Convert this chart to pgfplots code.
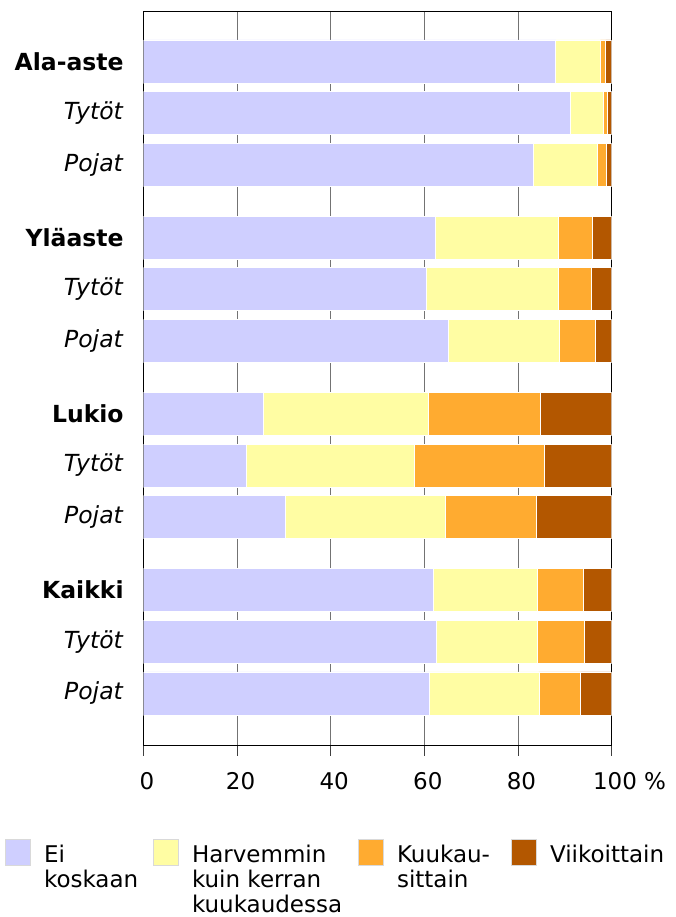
\documentclass[border=0pt]{standalone}
\usepackage{fontspec}
\setmainfont{DejaVu Sans}
\usepackage{pgfplots}
\usepackage{pgfplotstable}
\pgfplotsset{compat=1.18}
\definecolor{c1}{RGB}{207,207,255}
\definecolor{c2}{RGB}{255,253,163}
\definecolor{c3}{RGB}{255,171,48}
\definecolor{c4}{RGB}{179,87,0}
% y: position from bottom; a: Ei koskaan, b: Harvemmin, c: Kuukausittain, d: Viikoittain
\pgfplotstableread{
y     a     b     c     d
12.2  88.1  9.5   1.2   1.2
11.2  91.3  7.0   0.8   0.9
10.2  83.4  13.5  2.0   1.1
8.8   62.3  26.3  7.3   4.1
7.8   60.5  28.1  7.0   4.4
6.8   65.1  23.8  7.6   3.5
5.4   25.7  35.2  23.8  15.3
4.4   22.0  35.8  27.8  14.4
3.4   30.4  34.1  19.4  16.1
2.0   62.0  22.1  9.9   6.0
1.0   62.6  21.5  10.2  5.7
0.0   61.1  23.4  8.9   6.6
}\datatable
\pgfplotsset{swatch/.style={legend image code/.code={
    \path[draw=black!15, fill=#1, line width=1pt] (0.5pt,-3pt) rectangle (25.5pt,23pt);
    \path[draw=none, fill=none] (0pt,0pt) -- (39pt,0pt);}}}
\begin{document}
\begin{tikzpicture}
\useasboundingbox (0pt,0pt) rectangle (675pt,917pt);
\begin{axis}[
  at={(143.5pt,172pt)}, anchor=south west,
  scale only axis, width=468pt, height=733.3pt,
  xbar stacked, bar width=0.83, bar shift=0pt,
  xmin=0, xmax=100, ymin=-0.994, ymax=13.16,
  xtick={0,20,40,60,80,100},
  xticklabels={0,20,40,60,80,{100\rlap{\ \%}}},
  xtick pos=bottom, tick align=outside,
  major tick length=10.7pt,
  xtick style={draw=black!75, line width=0.8pt},
  xmajorgrids, grid style={draw=black!55, line width=0.8pt},
  axis line style={black, line width=0.9pt},
  ytick={0,1,2,3.4,4.4,5.4,6.8,7.8,8.8,10.2,11.2,12.2},
  yticklabels={\textit{Pojat},\textit{Tytöt},\textbf{Kaikki},
    \textit{Pojat},\textit{Tytöt},\textbf{Lukio},
    \textit{Pojat},\textit{Tytöt},\textbf{Yläaste},
    \textit{Pojat},\textit{Tytöt},\textbf{Ala-aste}},
  ytick style={draw=none},
  /pgf/number format/assume math mode=true,
  xticklabel style={font=\fontsize{23}{27}\selectfont, inner sep=0pt, xshift=3.5pt, yshift=-17pt},
  yticklabel style={font=\fontsize{23.5}{28}\selectfont, inner sep=0pt, xshift=-9pt},
  legend columns=4,
  legend cell align=left,
  legend style={at={(axis description cs:-0.2959,-0.1286)}, anchor=north west,
    draw=none, fill=none, inner sep=0pt, outer sep=0pt,
    column sep=0pt, row sep=0pt,
    font=\fontsize{23}{24.7}\selectfont,
    nodes={inner sep=0pt, outer sep=0pt, anchor=base west}},
  every axis plot/.append style={draw=white, line width=0.8pt},
]
\addplot[fill=c1, swatch=c1] table[x=a, y=y] {\datatable};
\addplot[fill=c2, swatch=c2] table[x=b, y=y] {\datatable};
\addplot[fill=c3, swatch=c3] table[x=c, y=y] {\datatable};
\addplot[fill=c4, swatch=c4] table[x=d, y=y] {\datatable};
\legend{\parbox[t]{109pt}{\raggedright Ei\\koskaan},
  \parbox[t]{166pt}{\raggedright Harvemmin\\kuin kerran\\kuukaudessa},
  \parbox[t]{114pt}{\raggedright Kuukau-\\sittain},
  \parbox[t]{130pt}{\raggedright Viikoittain}}
\end{axis}
\end{tikzpicture}
\end{document}
